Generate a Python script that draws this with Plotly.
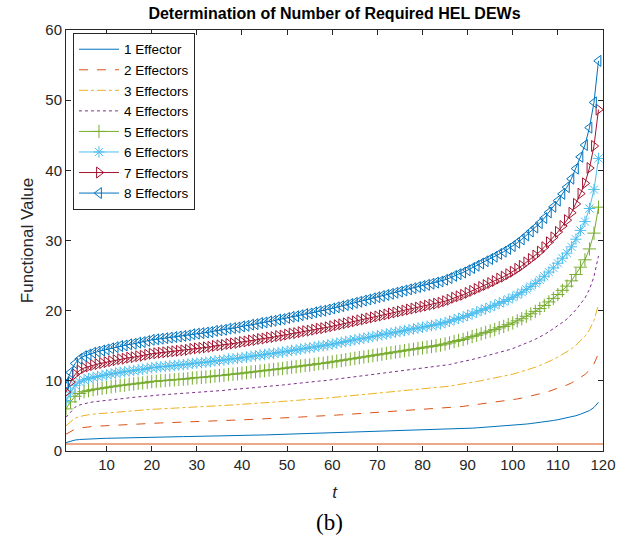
import plotly.graph_objects as go

t = list(range(1, 120))

effector_1 = [1.20, 1.40, 1.56, 1.64, 1.69, 1.72, 1.75, 1.77, 1.79, 1.81,
              1.83, 1.85, 1.87, 1.88, 1.90, 1.91, 1.93, 1.94, 1.96, 1.98,
              1.99, 2.00, 2.01, 2.02, 2.03, 2.04, 2.05, 2.06, 2.08, 2.09,
              2.10, 2.11, 2.12, 2.14, 2.15, 2.16, 2.18, 2.19, 2.20, 2.22,
              2.23, 2.25, 2.26, 2.28, 2.29, 2.31, 2.32, 2.34, 2.35, 2.37,
              2.39, 2.40, 2.42, 2.44, 2.45, 2.47, 2.49, 2.50, 2.52, 2.54,
              2.56, 2.58, 2.60, 2.62, 2.64, 2.66, 2.68, 2.70, 2.72, 2.74,
              2.76, 2.78, 2.80, 2.82, 2.84, 2.86, 2.88, 2.90, 2.92, 2.94,
              2.96, 2.98, 3.00, 3.02, 3.05, 3.08, 3.12, 3.15, 3.18, 3.22,
              3.26, 3.30, 3.34, 3.38, 3.42, 3.46, 3.51, 3.55, 3.60, 3.65,
              3.71, 3.77, 3.84, 3.91, 3.98, 4.06, 4.15, 4.25, 4.35, 4.46,
              4.58, 4.70, 4.85, 5.03, 5.24, 5.45, 5.76, 6.21, 6.95]

effector_2 = [2.40, 2.80, 3.12, 3.28, 3.38, 3.44, 3.50, 3.54, 3.58, 3.62,
              3.66, 3.70, 3.74, 3.76, 3.80, 3.82, 3.86, 3.88, 3.92, 3.96,
              3.98, 4.00, 4.02, 4.04, 4.06, 4.08, 4.10, 4.12, 4.16, 4.18,
              4.20, 4.22, 4.24, 4.28, 4.30, 4.32, 4.36, 4.38, 4.40, 4.44,
              4.46, 4.50, 4.52, 4.56, 4.58, 4.62, 4.64, 4.68, 4.70, 4.74,
              4.78, 4.80, 4.84, 4.88, 4.90, 4.94, 4.98, 5.00, 5.04, 5.08,
              5.12, 5.16, 5.20, 5.24, 5.28, 5.32, 5.36, 5.40, 5.44, 5.48,
              5.52, 5.56, 5.60, 5.64, 5.68, 5.72, 5.76, 5.80, 5.84, 5.88,
              5.92, 5.96, 6.00, 6.04, 6.10, 6.16, 6.24, 6.30, 6.36, 6.44,
              6.52, 6.60, 6.68, 6.76, 6.84, 6.92, 7.02, 7.10, 7.20, 7.30,
              7.42, 7.54, 7.68, 7.82, 7.96, 8.12, 8.30, 8.50, 8.70, 8.92,
              9.16, 9.40, 9.70, 10.06, 10.48, 10.90, 11.52, 12.42, 13.90]

effector_3 = [3.60, 4.20, 4.68, 4.92, 5.07, 5.16, 5.25, 5.31, 5.37, 5.43,
              5.49, 5.55, 5.61, 5.64, 5.70, 5.73, 5.79, 5.82, 5.88, 5.94,
              5.97, 6.00, 6.03, 6.06, 6.09, 6.12, 6.15, 6.18, 6.24, 6.27,
              6.30, 6.33, 6.36, 6.42, 6.45, 6.48, 6.54, 6.57, 6.60, 6.66,
              6.69, 6.75, 6.78, 6.84, 6.87, 6.93, 6.96, 7.02, 7.05, 7.11,
              7.17, 7.20, 7.26, 7.32, 7.35, 7.41, 7.47, 7.50, 7.56, 7.62,
              7.68, 7.74, 7.80, 7.86, 7.92, 7.98, 8.04, 8.10, 8.16, 8.22,
              8.28, 8.34, 8.40, 8.46, 8.52, 8.58, 8.64, 8.70, 8.76, 8.82,
              8.88, 8.94, 9.00, 9.06, 9.15, 9.24, 9.36, 9.45, 9.54, 9.66,
              9.78, 9.90, 10.02, 10.14, 10.26, 10.38, 10.53, 10.65, 10.80, 10.95,
              11.13, 11.31, 11.52, 11.73, 11.94, 12.18, 12.45, 12.75, 13.05, 13.38,
              13.74, 14.10, 14.55, 15.09, 15.72, 16.35, 17.28, 18.63, 20.85]

effector_4 = [4.80, 5.60, 6.24, 6.56, 6.76, 6.88, 7.00, 7.08, 7.16, 7.24,
              7.32, 7.40, 7.48, 7.52, 7.60, 7.64, 7.72, 7.76, 7.84, 7.92,
              7.96, 8.00, 8.04, 8.08, 8.12, 8.16, 8.20, 8.24, 8.32, 8.36,
              8.40, 8.44, 8.48, 8.56, 8.60, 8.64, 8.72, 8.76, 8.80, 8.88,
              8.92, 9.00, 9.04, 9.12, 9.16, 9.24, 9.28, 9.36, 9.40, 9.48,
              9.56, 9.60, 9.68, 9.76, 9.80, 9.88, 9.96, 10.00, 10.08, 10.16,
              10.24, 10.32, 10.40, 10.48, 10.56, 10.64, 10.72, 10.80, 10.88, 10.96,
              11.04, 11.12, 11.20, 11.28, 11.36, 11.44, 11.52, 11.60, 11.68, 11.76,
              11.84, 11.92, 12.00, 12.08, 12.20, 12.32, 12.48, 12.60, 12.72, 12.88,
              13.04, 13.20, 13.36, 13.52, 13.68, 13.84, 14.04, 14.20, 14.40, 14.60,
              14.84, 15.08, 15.36, 15.64, 15.92, 16.24, 16.60, 17.00, 17.40, 17.84,
              18.32, 18.80, 19.40, 20.12, 20.96, 21.80, 23.04, 24.84, 27.80]

effector_5 = [6.00, 7.00, 7.80, 8.20, 8.45, 8.60, 8.75, 8.85, 8.95, 9.05,
              9.15, 9.25, 9.35, 9.40, 9.50, 9.55, 9.65, 9.70, 9.80, 9.90,
              9.95, 10.00, 10.05, 10.10, 10.15, 10.20, 10.25, 10.30, 10.40, 10.45,
              10.50, 10.55, 10.60, 10.70, 10.75, 10.80, 10.90, 10.95, 11.00, 11.10,
              11.15, 11.25, 11.30, 11.40, 11.45, 11.55, 11.60, 11.70, 11.75, 11.85,
              11.95, 12.00, 12.10, 12.20, 12.25, 12.35, 12.45, 12.50, 12.60, 12.70,
              12.80, 12.90, 13.00, 13.10, 13.20, 13.30, 13.40, 13.50, 13.60, 13.70,
              13.80, 13.90, 14.00, 14.10, 14.20, 14.30, 14.40, 14.50, 14.60, 14.70,
              14.80, 14.90, 15.00, 15.10, 15.25, 15.40, 15.60, 15.75, 15.90, 16.10,
              16.30, 16.50, 16.70, 16.90, 17.10, 17.30, 17.55, 17.75, 18.00, 18.25,
              18.55, 18.85, 19.20, 19.55, 19.90, 20.30, 20.75, 21.25, 21.75, 22.30,
              22.90, 23.50, 24.25, 25.15, 26.20, 27.25, 28.80, 31.05, 34.75]

effector_6 = [7.20, 8.40, 9.36, 9.84, 10.14, 10.32, 10.50, 10.62, 10.74, 10.86,
              10.98, 11.10, 11.22, 11.28, 11.40, 11.46, 11.58, 11.64, 11.76, 11.88,
              11.94, 12.00, 12.06, 12.12, 12.18, 12.24, 12.30, 12.36, 12.48, 12.54,
              12.60, 12.66, 12.72, 12.84, 12.90, 12.96, 13.08, 13.14, 13.20, 13.32,
              13.38, 13.50, 13.56, 13.68, 13.74, 13.86, 13.92, 14.04, 14.10, 14.22,
              14.34, 14.40, 14.52, 14.64, 14.70, 14.82, 14.94, 15.00, 15.12, 15.24,
              15.36, 15.48, 15.60, 15.72, 15.84, 15.96, 16.08, 16.20, 16.32, 16.44,
              16.56, 16.68, 16.80, 16.92, 17.04, 17.16, 17.28, 17.40, 17.52, 17.64,
              17.76, 17.88, 18.00, 18.12, 18.30, 18.48, 18.72, 18.90, 19.08, 19.32,
              19.56, 19.80, 20.04, 20.28, 20.52, 20.76, 21.06, 21.30, 21.60, 21.90,
              22.26, 22.62, 23.04, 23.46, 23.88, 24.36, 24.90, 25.50, 26.10, 26.76,
              27.48, 28.20, 29.10, 30.18, 31.44, 32.70, 34.56, 37.26, 41.70]

effector_7 = [8.40, 9.80, 10.92, 11.48, 11.83, 12.04, 12.25, 12.39, 12.53, 12.67,
              12.81, 12.95, 13.09, 13.16, 13.30, 13.37, 13.51, 13.58, 13.72, 13.86,
              13.93, 14.00, 14.07, 14.14, 14.21, 14.28, 14.35, 14.42, 14.56, 14.63,
              14.70, 14.77, 14.84, 14.98, 15.05, 15.12, 15.26, 15.33, 15.40, 15.54,
              15.61, 15.75, 15.82, 15.96, 16.03, 16.17, 16.24, 16.38, 16.45, 16.59,
              16.73, 16.80, 16.94, 17.08, 17.15, 17.29, 17.43, 17.50, 17.64, 17.78,
              17.92, 18.06, 18.20, 18.34, 18.48, 18.62, 18.76, 18.90, 19.04, 19.18,
              19.32, 19.46, 19.60, 19.74, 19.88, 20.02, 20.16, 20.30, 20.44, 20.58,
              20.72, 20.86, 21.00, 21.14, 21.35, 21.56, 21.84, 22.05, 22.26, 22.54,
              22.82, 23.10, 23.38, 23.66, 23.94, 24.22, 24.57, 24.85, 25.20, 25.55,
              25.97, 26.39, 26.88, 27.37, 27.86, 28.42, 29.05, 29.75, 30.45, 31.22,
              32.06, 32.90, 33.95, 35.21, 36.68, 38.15, 40.32, 43.47, 48.65]

effector_8 = [9.60, 11.20, 12.48, 13.12, 13.52, 13.76, 14.00, 14.16, 14.32, 14.48,
              14.64, 14.80, 14.96, 15.04, 15.20, 15.28, 15.44, 15.52, 15.68, 15.84,
              15.92, 16.00, 16.08, 16.16, 16.24, 16.32, 16.40, 16.48, 16.64, 16.72,
              16.80, 16.88, 16.96, 17.12, 17.20, 17.28, 17.44, 17.52, 17.60, 17.76,
              17.84, 18.00, 18.08, 18.24, 18.32, 18.48, 18.56, 18.72, 18.80, 18.96,
              19.12, 19.20, 19.36, 19.52, 19.60, 19.76, 19.92, 20.00, 20.16, 20.32,
              20.48, 20.64, 20.80, 20.96, 21.12, 21.28, 21.44, 21.60, 21.76, 21.92,
              22.08, 22.24, 22.40, 22.56, 22.72, 22.88, 23.04, 23.20, 23.36, 23.52,
              23.68, 23.84, 24.00, 24.16, 24.40, 24.64, 24.96, 25.20, 25.44, 25.76,
              26.08, 26.40, 26.72, 27.04, 27.36, 27.68, 28.08, 28.40, 28.80, 29.20,
              29.68, 30.16, 30.72, 31.28, 31.84, 32.48, 33.20, 34.00, 34.80, 35.68,
              36.64, 37.60, 38.80, 40.24, 41.92, 43.60, 46.08, 49.68, 55.60]

reference_t = [1, 120]
reference_level = [1, 1]

names = ["1 Effector", "2 Effectors", "3 Effectors", "4 Effectors",
         "5 Effectors", "6 Effectors", "7 Effectors", "8 Effectors"]
series = [effector_1, effector_2, effector_3, effector_4,
          effector_5, effector_6, effector_7, effector_8]

colors = ["#0072BD", "#D95319", "#EDB120", "#7E2F8E",
          "#77AC30", "#4DBEEE", "#A2142F", "#0072BD"]
dashes = ["solid", "dash", "dashdot", "dot", "solid", "solid", "solid", "solid"]
symbols = [None, None, None, None, "cross-thin-open", "asterisk-open",
           "triangle-right-open", "triangle-left-open"]

fig = go.Figure()
for name, y, c, d, s in zip(names, series, colors, dashes, symbols):
    if s is None:
        fig.add_trace(go.Scatter(x=t, y=y, name=name, mode="lines",
                                 line=dict(color=c, width=1, dash=d)))
    else:
        fig.add_trace(go.Scatter(x=t, y=y, name=name, mode="lines+markers",
                                 line=dict(color=c, width=1, dash=d),
                                 marker=dict(symbol=s, size=9.5, color=c,
                                             line=dict(color=c, width=1))))

fig.add_trace(go.Scatter(x=reference_t, y=reference_level, mode="lines",
                         showlegend=False, hoverinfo="skip",
                         line=dict(color="#D95319", width=1.2)))

axis_common = dict(showline=True, linecolor="#262626", linewidth=1,
                   mirror="ticks", ticks="inside", ticklen=5,
                   tickcolor="#262626", showgrid=False, zeroline=False,
                   tickfont=dict(family="Liberation Sans", size=15, color="#262626"))

fig.update_layout(
    width=629, height=544,
    margin=dict(l=66, r=26, t=30, b=93),
    paper_bgcolor="white", plot_bgcolor="white",
    font=dict(family="Liberation Sans", color="#262626"),
    title=dict(text="<b>Determination of Number of Required HEL DEWs</b>",
               x=0.5, xref="paper", xanchor="center",
               y=1, yref="paper", yanchor="bottom", pad=dict(b=11),
               font=dict(family="Liberation Sans", size=16, color="black")),
    xaxis=dict(range=[1, 120], tickvals=list(range(10, 121, 10)),
               title=dict(text="<i>t</i>", standoff=14,
                          font=dict(family="Liberation Sans", size=17, color="#262626")),
               **axis_common),
    yaxis=dict(range=[0, 60], tickvals=list(range(0, 61, 10)),
               title=dict(text="Functional Value", standoff=7,
                          font=dict(family="Liberation Sans", size=17, color="#262626")),
               **axis_common),
    legend=dict(x=0.013, y=0.993, xanchor="left", yanchor="top",
                bgcolor="white", bordercolor="#262626", borderwidth=1,
                font=dict(family="Liberation Sans", size=13.5, color="black"),
                tracegroupgap=0, itemwidth=40),
    showlegend=True,
)

fig.add_annotation(text="(b)", xref="paper", yref="paper", x=0.4916, y=-0.171,
                   xanchor="center", yanchor="middle", showarrow=False,
                   font=dict(family="Liberation Serif", size=23, color="black"))

fig.write_html("out.html")
